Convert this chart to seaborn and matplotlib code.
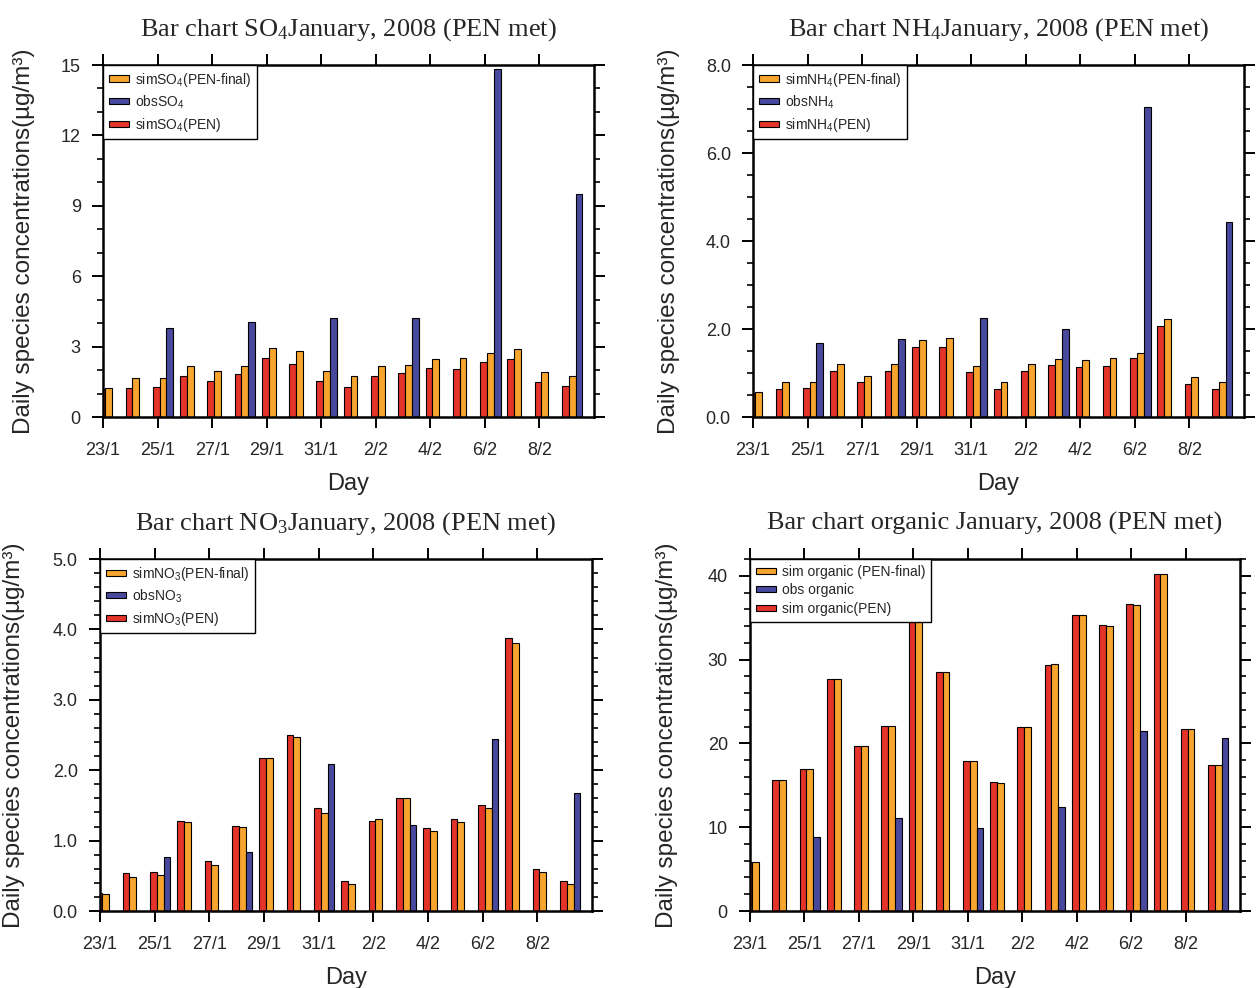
import numpy as np
import pandas as pd
import matplotlib
matplotlib.use("Agg")
import matplotlib.pyplot as plt
from matplotlib.patches import Patch
from matplotlib.ticker import MultipleLocator, FormatStrFormatter
import seaborn as sns

# Days 23 Jan - 9 Feb 2008
days = ["23/1", "24/1", "25/1", "26/1", "27/1", "28/1", "29/1", "30/1", "31/1",
        "1/2", "2/2", "3/2", "4/2", "5/2", "6/2", "7/2", "8/2", "9/2"]
nan = np.nan

so4_pen = [1.20, 1.22, 1.26, 1.75, 1.53, 1.82, 2.50, 2.26, 1.53, 1.29, 1.76, 1.86, 2.07, 2.05, 2.33, 2.47, 1.48, 1.32]
so4_final = [1.25, 1.68, 1.65, 2.17, 1.96, 2.17, 2.93, 2.81, 1.96, 1.76, 2.17, 2.22, 2.47, 2.50, 2.71, 2.90, 1.90, 1.76]
so4_obs = [nan, nan, 3.78, nan, nan, 4.06, nan, nan, 4.20, nan, nan, 4.20, nan, nan, 14.83, nan, nan, 9.50]

nh4_pen = [0.55, 0.64, 0.67, 1.05, 0.80, 1.05, 1.60, 1.60, 1.02, 0.64, 1.05, 1.18, 1.14, 1.17, 1.33, 2.07, 0.74, 0.64]
nh4_final = [0.56, 0.80, 0.79, 1.20, 0.94, 1.20, 1.75, 1.79, 1.16, 0.80, 1.20, 1.31, 1.30, 1.33, 1.46, 2.22, 0.90, 0.80]
nh4_obs = [nan, nan, 1.69, nan, nan, 1.77, nan, nan, 2.24, nan, nan, 2.00, nan, nan, 7.04, nan, nan, 4.44]

no3_pen = [0.26, 0.54, 0.55, 1.28, 0.71, 1.21, 2.17, 2.50, 1.46, 0.43, 1.28, 1.61, 1.18, 1.30, 1.50, 3.88, 0.59, 0.43]
no3_final = [0.24, 0.49, 0.51, 1.26, 0.66, 1.19, 2.17, 2.47, 1.39, 0.39, 1.30, 1.61, 1.14, 1.26, 1.46, 3.80, 0.55, 0.38]
no3_obs = [nan, nan, 0.77, nan, nan, 0.84, nan, nan, 2.09, nan, nan, 1.22, nan, nan, 2.45, nan, nan, 1.68]

org_pen = [5.9, 15.6, 17.0, 27.7, 19.7, 22.1, 36.0, 28.5, 17.9, 15.4, 22.0, 29.4, 35.3, 34.1, 36.6, 40.2, 21.7, 17.4]
org_final = [5.9, 15.6, 17.0, 27.7, 19.7, 22.1, 36.0, 28.5, 17.9, 15.3, 22.0, 29.45, 35.3, 34.0, 36.5, 40.2, 21.7, 17.4]
org_obs = [nan, nan, 8.8, nan, nan, 11.1, nan, nan, 9.95, nan, nan, 12.45, nan, nan, 21.5, nan, nan, 20.7]

C_PEN = "#E4342A"
C_FINAL = "#F7A52F"
C_OBS = "#48489C"

sns.set_theme(style="ticks")
plt.rcParams["font.family"] = ["Liberation Sans", "DejaVu Sans"]
plt.rcParams["mathtext.default"] = "regular"

W, H = 1257, 988
fig = plt.figure(figsize=(W / 100, H / 100), dpi=100)

panels = [
    dict(rect=(103, 65, 594, 417), pen=so4_pen, final=so4_final, obs=so4_obs,
         title="Bar chart SO$_4$January, 2008 (PEN met)",
         labels=["simSO$_4$(PEN-final)", "obsSO$_4$", "simSO$_4$(PEN)"],
         ymax=15, major=3, minor=1, fmt="%d", ylab_x=35),
    dict(rect=(753, 65, 1244, 417), pen=nh4_pen, final=nh4_final, obs=nh4_obs,
         title="Bar chart NH$_4$January, 2008 (PEN met)",
         labels=["simNH$_4$(PEN-final)", "obsNH$_4$", "simNH$_4$(PEN)"],
         ymax=8.0, major=2.0, minor=0.5, fmt="%.1f", ylab_x=680),
    dict(rect=(100, 559, 592, 911), pen=no3_pen, final=no3_final, obs=no3_obs,
         title="Bar chart NO$_3$January, 2008 (PEN met)",
         labels=["simNO$_3$(PEN-final)", "obsNO$_3$", "simNO$_3$(PEN)"],
         ymax=5.0, major=1.0, minor=0.2, fmt="%.1f", ylab_x=25),
    dict(rect=(750, 559, 1240, 911), pen=org_pen, final=org_final, obs=org_obs,
         title="Bar chart organic January, 2008 (PEN met)",
         labels=["sim organic (PEN-final)", "obs organic", "sim organic(PEN)"],
         ymax=42, major=10, minor=2, fmt="%d", ylab_x=678),
]

n = len(days)
for p in panels:
    x0, y0, x1, y1 = p["rect"]
    ax = fig.add_axes([x0 / W, 1 - y1 / H, (x1 - x0) / W, (y1 - y0) / H])

    # group centre sits a little right of each day so the PEN bar starts at the day mark
    slot = np.arange(n) + 0.2
    df = pd.concat([
        pd.DataFrame({"slot": slot, "value": p["pen"], "series": "pen"}),
        pd.DataFrame({"slot": slot, "value": p["final"], "series": "final"}),
        pd.DataFrame({"slot": slot, "value": p["obs"], "series": "obs"}),
    ]).dropna()

    sns.barplot(data=df, x="slot", y="value", hue="series",
                hue_order=["pen", "final", "obs"],
                palette={"pen": C_PEN, "final": C_FINAL, "obs": C_OBS},
                saturation=1, native_scale=True, orient="x", width=0.75, gap=0,
                errorbar=None, edgecolor="black", linewidth=0.8,
                legend=False, ax=ax)

    ax.set_xlim(0, n)
    ax.set_ylim(0, p["ymax"])
    ax.set_xticks(np.arange(0, n - 1, 2))
    ax.set_xticklabels(days[0:n - 1:2])
    ax.yaxis.set_major_locator(MultipleLocator(p["major"]))
    ax.yaxis.set_minor_locator(MultipleLocator(p["minor"]))
    ax.yaxis.set_major_formatter(FormatStrFormatter(p["fmt"]))

    ax.tick_params(axis="both", which="both", direction="out", top=True, right=True,
                   labeltop=False, labelright=False, color="black")
    ax.tick_params(axis="both", which="major", length=8, width=1.4, labelsize=13, pad=8)
    ax.tick_params(axis="x", which="major", pad=10)
    ax.tick_params(axis="y", which="minor", length=4, width=1.2)
    for s in ax.spines.values():
        s.set_visible(True)
        s.set_linewidth(1.8)
        s.set_color("black")

    ax.set_xlabel("Day", fontsize=17)
    ax.xaxis.set_label_coords(0.5, -0.158)
    ax.set_ylabel("Daily species concentrations(\u00b5g/m\u00b3)", fontsize=17.5)
    ax.yaxis.set_label_coords((p["ylab_x"] - x0) / (x1 - x0), 0.5)
    ax.set_title(p["title"], fontsize=19, pad=21,
                 family=["Liberation Serif", "DejaVu Serif"])

    handles = [Patch(facecolor=C_FINAL, edgecolor="black", linewidth=0.8),
               Patch(facecolor=C_OBS, edgecolor="black", linewidth=0.8),
               Patch(facecolor=C_PEN, edgecolor="black", linewidth=0.8)]
    leg = ax.legend(handles, p["labels"], loc="upper left", bbox_to_anchor=(0, 1),
                    borderaxespad=0, fontsize=10, frameon=True, fancybox=False,
                    framealpha=1, edgecolor="black", handlelength=1.5,
                    handleheight=0.3, handletextpad=0.4, labelspacing=0.35,
                    borderpad=0.4)
    leg.get_frame().set_linewidth(1.0)
    ax.set_facecolor("white")

fig.savefig("out.png", dpi=100, facecolor="white")
